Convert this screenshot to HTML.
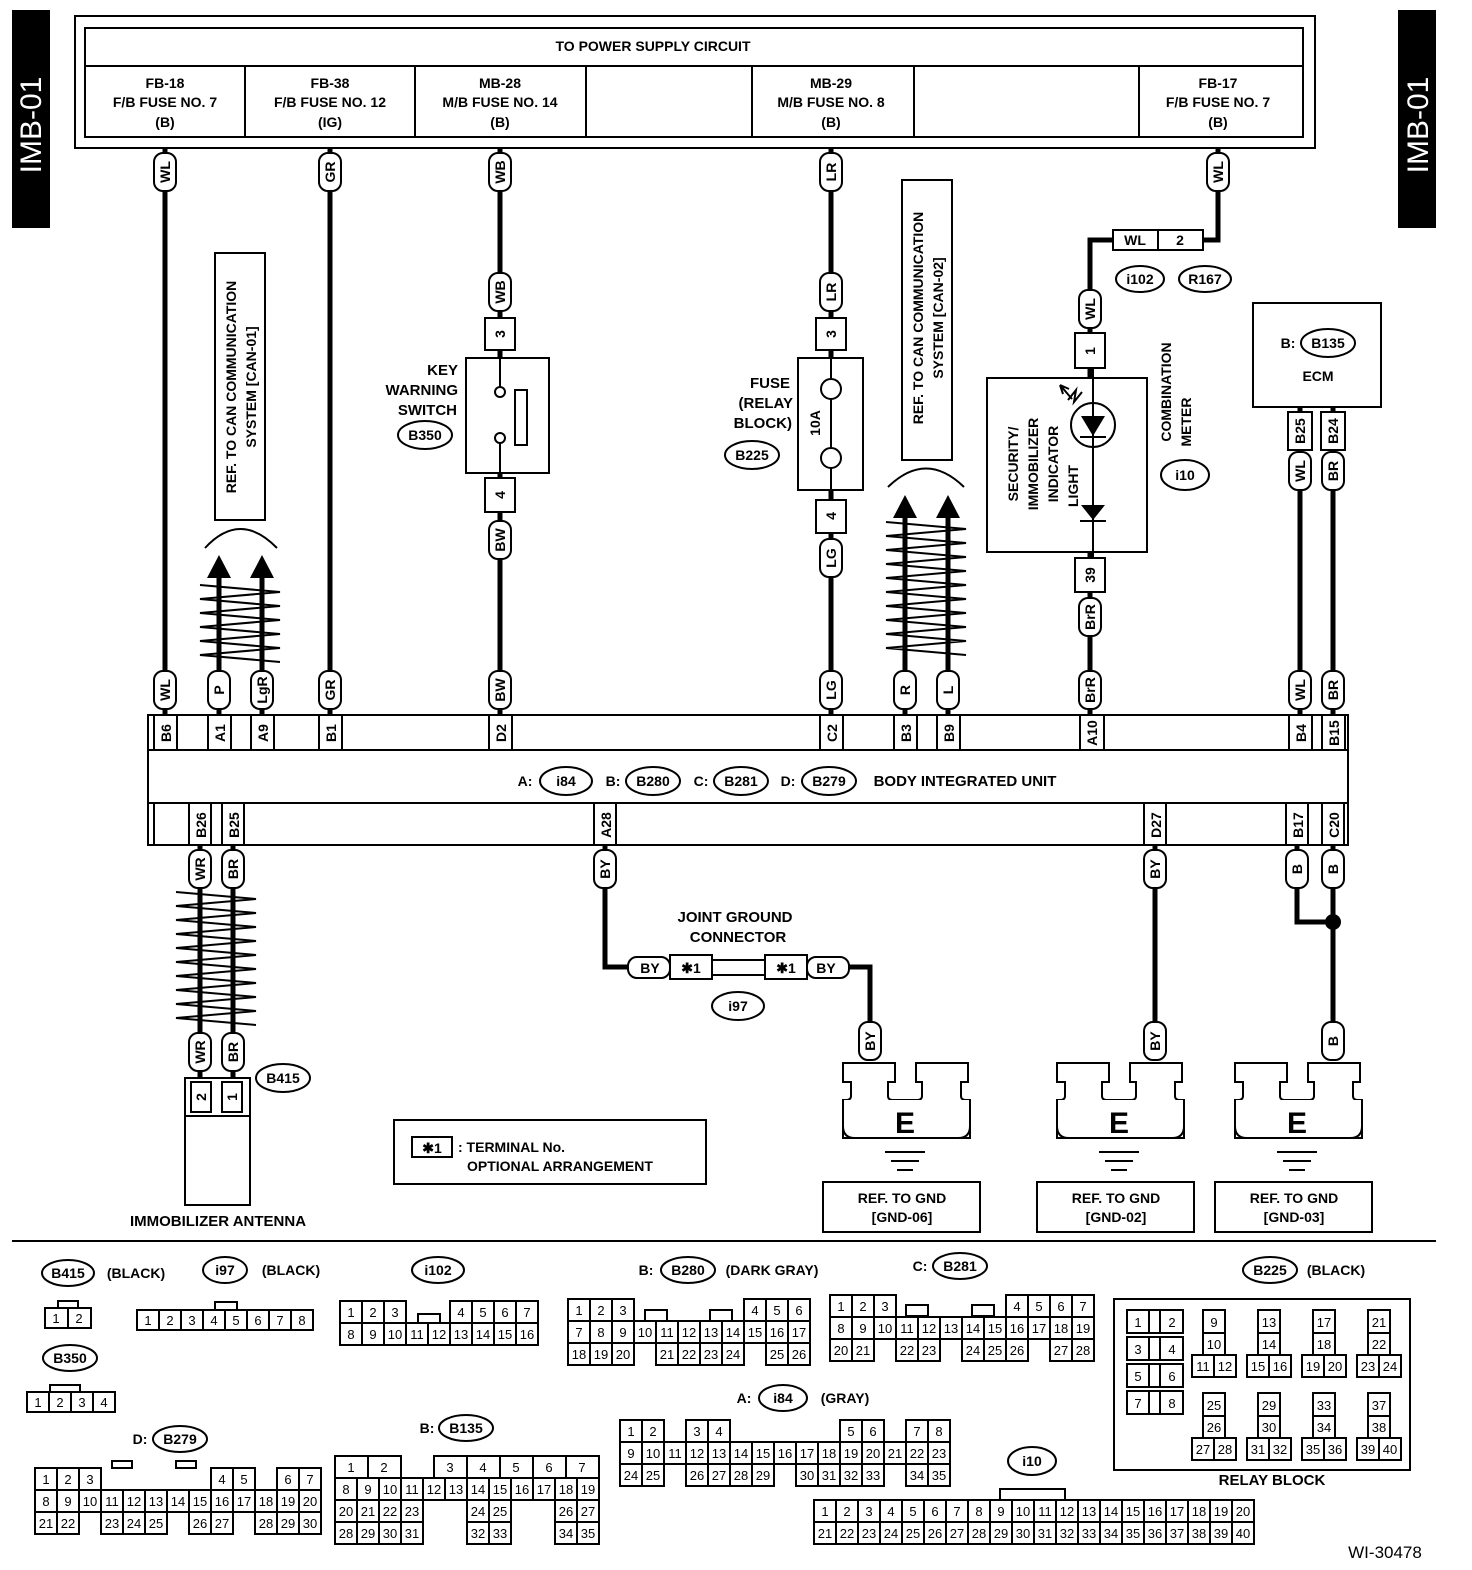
<!DOCTYPE html>
<html><head><meta charset="utf-8"><style>
html,body{margin:0;padding:0;background:#fff}
svg{display:block}
text{font-family:"Liberation Sans",sans-serif;font-weight:bold;font-size:14px;text-anchor:middle;fill:#000}
.b{fill:#fff;stroke:#000;stroke-width:2}
.w{stroke:#000;stroke-width:5;fill:none}
.t{stroke:#000;stroke-width:2;fill:none}
.c rect{fill:#fff;stroke:#000;stroke-width:2}
.c text{font-size:13px;font-weight:normal}
</style></head><body>
<svg width="1472" height="1570" viewBox="0 0 1472 1570" xmlns="http://www.w3.org/2000/svg">
<defs>
<g id="zz"><polyline class="t" points="0,0 80,7 0,14 80,21 0,28 80,35 0,42 80,49 0,56 80,63 0,70 80,77"/></g>
<g id="zl"><polyline class="t" points="0,0 80,7 0,14 80,21 0,28 80,35 0,42 80,49 0,56 80,63 0,70 80,77 0,84 80,91 0,98 80,105 0,112 80,119 0,126 80,133"/></g>
</defs>
<rect x="12" y="10" width="38" height="218" fill="#000"/>
<text transform="translate(41,125) rotate(-90)" style="fill:#fff;font-size:30px;font-weight:normal">IMB-01</text>
<rect x="1398" y="10" width="38" height="218" fill="#000"/>
<text transform="translate(1428,125) rotate(-90)" style="fill:#fff;font-size:30px;font-weight:normal">IMB-01</text>

<rect x="75" y="16" width="1240" height="132" class="b"/>
<rect x="85" y="28" width="1218" height="109" class="b"/>
<line x1="85" y1="66" x2="1303" y2="66" class="t"/>
<path class="t" d="M245 66V137M415 66V137M586 66V137M752 66V137M914 66V137M1139 66V137"/>
<text x="653" y="51">TO POWER SUPPLY CIRCUIT</text>
<text x="165" y="88">FB-18</text><text x="165" y="107">F/B FUSE NO. 7</text><text x="165" y="127">(B)</text>
<text x="330" y="88">FB-38</text><text x="330" y="107">F/B FUSE NO. 12</text><text x="330" y="127">(IG)</text>
<text x="500" y="88">MB-28</text><text x="500" y="107">M/B FUSE NO. 14</text><text x="500" y="127">(B)</text>
<text x="831" y="88">MB-29</text><text x="831" y="107">M/B FUSE NO. 8</text><text x="831" y="127">(B)</text>
<text x="1218" y="88">FB-17</text><text x="1218" y="107">F/B FUSE NO. 7</text><text x="1218" y="127">(B)</text>

<path class="w" d="M165 148V715M330 148V715M500 148V715M831 148V715M1218 148V240H1190M1113 240H1090V715M1300 407V715M1333 407V715"/>

<rect x="215" y="253" width="50" height="267" class="b"/>
<text transform="translate(236,387) rotate(-90)">REF. TO CAN COMMUNICATION</text>
<text transform="translate(256,387) rotate(-90)">SYSTEM [CAN-01]</text>
<path class="t" d="M205 548Q240 510 277 548"/>
<path class="w" d="M219 715V575M262 715V575"/>
<path d="M207 578L219 555L231 578ZM250 578L262 555L274 578Z"/>
<use href="#zz" x="200" y="585"/>
<rect x="902" y="180" width="50" height="280" class="b"/>
<text transform="translate(923,318) rotate(-90)">REF. TO CAN COMMUNICATION</text>
<text transform="translate(943,318) rotate(-90)">SYSTEM [CAN-02]</text>
<path class="t" d="M888 487Q926 450 964 487"/>
<path class="w" d="M905 715V515M948 715V515"/>
<path d="M893 518L905 495L917 518ZM936 518L948 495L960 518Z"/>
<use href="#zl" x="886" y="522"/>

<rect x="485" y="318" width="30" height="32" class="b"/><text transform="translate(505,334) rotate(-90)">3</text>
<rect x="466" y="358" width="83" height="115" class="b"/>
<circle cx="500" cy="392" r="5" class="b"/><circle cx="500" cy="438" r="5" class="b"/>
<path class="t" d="M500 350V387M500 443V478"/>
<rect x="515" y="390" width="12" height="55" class="b"/>
<rect x="485" y="478" width="30" height="34" class="b"/><text transform="translate(505,495) rotate(-90)">4</text>
<text x="458" y="375" style="text-anchor:end;font-size:15px">KEY</text>
<text x="458" y="395" style="text-anchor:end;font-size:15px">WARNING</text>
<text x="457" y="415" style="text-anchor:end;font-size:15px">SWITCH</text>

<rect x="816" y="318" width="30" height="32" class="b"/><text transform="translate(836,334) rotate(-90)">3</text>
<rect x="798" y="358" width="65" height="132" class="b"/>
<path class="t" d="M831 350V379M831 468V500M831 399V448"/>
<circle cx="831" cy="389" r="10" class="b"/><circle cx="831" cy="458" r="10" class="b"/>
<text transform="translate(820,423) rotate(-90)">10A</text>
<rect x="816" y="500" width="30" height="33" class="b"/><text transform="translate(836,516) rotate(-90)">4</text>
<text x="790" y="388" style="text-anchor:end;font-size:15px">FUSE</text>
<text x="793" y="408" style="text-anchor:end;font-size:15px">(RELAY</text>
<text x="792" y="428" style="text-anchor:end;font-size:15px">BLOCK)</text>

<rect x="1113" y="230" width="90" height="20" class="b"/>
<line x1="1158" y1="230" x2="1158" y2="250" class="t"/>
<text x="1135" y="245">WL</text><text x="1180" y="245">2</text>
<rect x="1075" y="333" width="30" height="35" class="b"/><text transform="translate(1095,351) rotate(-90)">1</text>
<rect x="987" y="378" width="160" height="174" class="b"/>
<line x1="1093" y1="368" x2="1093" y2="558" class="t"/>
<circle cx="1093" cy="425" r="22" class="b"/>
<line x1="1093" y1="403" x2="1093" y2="447" class="t"/>
<path d="M1081 416H1105L1093 436Z"/><line x1="1080" y1="437" x2="1106" y2="437" class="t"/>
<path d="M1081 505H1105L1093 520Z"/><line x1="1080" y1="521" x2="1106" y2="521" class="t"/>
<path class="t" d="M1072 399L1060 385M1060 385L1063 394M1060 385L1069 389M1068 400L1076 390L1074 402L1082 392"/>
<text transform="translate(1018,464) rotate(-90)">SECURITY/</text>
<text transform="translate(1038,464) rotate(-90)">IMMOBILIZER</text>
<text transform="translate(1058,464) rotate(-90)">INDICATOR</text>
<text transform="translate(1078,486) rotate(-90)">LIGHT</text>
<rect x="1075" y="558" width="30" height="34" class="b"/><text transform="translate(1095,575) rotate(-90)">39</text>
<text transform="translate(1171,392) rotate(-90)">COMBINATION</text>
<text transform="translate(1191,422) rotate(-90)">METER</text>

<rect x="1253" y="303" width="128" height="104" class="b"/>
<text x="1288" y="348">B:</text>
<ellipse cx="1328" cy="343" rx="27" ry="14" class="b"/><text x="1328" y="348">B135</text>
<text x="1318" y="381">ECM</text>
<rect x="1288" y="412" width="24" height="38" class="b"/><text transform="translate(1305,431) rotate(-90)">B25</text>
<rect x="1321" y="412" width="24" height="38" class="b"/><text transform="translate(1338,431) rotate(-90)">B24</text>

<ellipse cx="1140" cy="279" rx="24" ry="13" class="b"/><text x="1140" y="284">i102</text>
<ellipse cx="1205" cy="279" rx="26" ry="13" class="b"/><text x="1205" y="284">R167</text>
<ellipse cx="425" cy="435" rx="27" ry="14" class="b"/><text x="425" y="440">B350</text>
<ellipse cx="752" cy="455" rx="27" ry="14" class="b"/><text x="752" y="460">B225</text>
<ellipse cx="1185" cy="475" rx="24" ry="15" class="b"/><text x="1185" y="480">i10</text>

<rect x="154" y="153" width="22" height="38" rx="9" class="b"/><text transform="translate(170,172) rotate(-90)">WL</text>
<rect x="319" y="153" width="22" height="38" rx="9" class="b"/><text transform="translate(335,172) rotate(-90)">GR</text>
<rect x="489" y="153" width="22" height="38" rx="9" class="b"/><text transform="translate(505,172) rotate(-90)">WB</text>
<rect x="820" y="153" width="22" height="38" rx="9" class="b"/><text transform="translate(836,172) rotate(-90)">LR</text>
<rect x="1207" y="153" width="22" height="38" rx="9" class="b"/><text transform="translate(1223,172) rotate(-90)">WL</text>
<rect x="489" y="273" width="22" height="38" rx="9" class="b"/><text transform="translate(505,292) rotate(-90)">WB</text>
<rect x="820" y="273" width="22" height="38" rx="9" class="b"/><text transform="translate(836,292) rotate(-90)">LR</text>
<rect x="1079" y="290" width="22" height="38" rx="9" class="b"/><text transform="translate(1095,309) rotate(-90)">WL</text>
<rect x="489" y="521" width="22" height="38" rx="9" class="b"/><text transform="translate(505,540) rotate(-90)">BW</text>
<rect x="820" y="539" width="22" height="38" rx="9" class="b"/><text transform="translate(836,558) rotate(-90)">LG</text>
<rect x="1079" y="598" width="22" height="38" rx="9" class="b"/><text transform="translate(1095,617) rotate(-90)">BrR</text>
<rect x="1289" y="452" width="22" height="38" rx="9" class="b"/><text transform="translate(1305,471) rotate(-90)">WL</text>
<rect x="1322" y="452" width="22" height="38" rx="9" class="b"/><text transform="translate(1338,471) rotate(-90)">BR</text>
<rect x="154" y="671" width="22" height="38" rx="9" class="b"/><text transform="translate(170,690) rotate(-90)">WL</text>
<rect x="208" y="671" width="22" height="38" rx="9" class="b"/><text transform="translate(224,690) rotate(-90)">P</text>
<rect x="251" y="671" width="22" height="38" rx="9" class="b"/><text transform="translate(267,690) rotate(-90)">LgR</text>
<rect x="319" y="671" width="22" height="38" rx="9" class="b"/><text transform="translate(335,690) rotate(-90)">GR</text>
<rect x="489" y="671" width="22" height="38" rx="9" class="b"/><text transform="translate(505,690) rotate(-90)">BW</text>
<rect x="820" y="671" width="22" height="38" rx="9" class="b"/><text transform="translate(836,690) rotate(-90)">LG</text>
<rect x="894" y="671" width="22" height="38" rx="9" class="b"/><text transform="translate(910,690) rotate(-90)">R</text>
<rect x="937" y="671" width="22" height="38" rx="9" class="b"/><text transform="translate(953,690) rotate(-90)">L</text>
<rect x="1079" y="671" width="22" height="38" rx="9" class="b"/><text transform="translate(1095,690) rotate(-90)">BrR</text>
<rect x="1289" y="671" width="22" height="38" rx="9" class="b"/><text transform="translate(1305,690) rotate(-90)">WL</text>
<rect x="1322" y="671" width="22" height="38" rx="9" class="b"/><text transform="translate(1338,690) rotate(-90)">BR</text>

<rect x="148" y="715" width="1200" height="130" class="b"/>
<path class="t" d="M148 750H1348M148 803H1348"/>
<path class="t" d="M154 715V750M177 715V750M208 715V750M231 715V750M251 715V750M274 715V750M319 715V750M342 715V750M489 715V750M512 715V750M820 715V750M843 715V750M894 715V750M917 715V750M937 715V750M960 715V750M1080 715V750M1104 715V750M1289 715V750M1312 715V750M1322 715V750M1345 715V750"/>
<text transform="translate(171,733) rotate(-90)">B6</text>
<text transform="translate(225,733) rotate(-90)">A1</text>
<text transform="translate(268,733) rotate(-90)">A9</text>
<text transform="translate(336,733) rotate(-90)">B1</text>
<text transform="translate(506,733) rotate(-90)">D2</text>
<text transform="translate(837,733) rotate(-90)">C2</text>
<text transform="translate(911,733) rotate(-90)">B3</text>
<text transform="translate(954,733) rotate(-90)">B9</text>
<text transform="translate(1097,733) rotate(-90)">A10</text>
<text transform="translate(1306,733) rotate(-90)">B4</text>
<text transform="translate(1339,733) rotate(-90)">B15</text>
<path class="t" d="M154 803V845M189 803V845M211 803V845M222 803V845M244 803V845M594 803V845M616 803V845M1144 803V845M1166 803V845M1286 803V845M1308 803V845M1322 803V845M1344 803V845"/>
<text transform="translate(206,825) rotate(-90)">B26</text>
<text transform="translate(239,825) rotate(-90)">B25</text>
<text transform="translate(611,825) rotate(-90)">A28</text>
<text transform="translate(1161,825) rotate(-90)">D27</text>
<text transform="translate(1303,825) rotate(-90)">B17</text>
<text transform="translate(1339,825) rotate(-90)">C20</text>
<text x="525" y="786">A:</text>
<ellipse cx="566" cy="781" rx="26" ry="14" class="b"/><text x="566" y="786">i84</text>
<text x="613" y="786">B:</text>
<ellipse cx="653" cy="781" rx="27" ry="14" class="b"/><text x="653" y="786">B280</text>
<text x="701" y="786">C:</text>
<ellipse cx="741" cy="781" rx="27" ry="14" class="b"/><text x="741" y="786">B281</text>
<text x="788" y="786">D:</text>
<ellipse cx="829" cy="781" rx="27" ry="14" class="b"/><text x="829" y="786">B279</text>
<text x="965" y="786" style="font-size:15px">BODY INTEGRATED UNIT</text>

<path class="w" d="M200 845V1078M233 845V1078M605 845V967H628M847 967H870V1060M1155 845V1060M1297 845V922H1333M1333 845V1060"/>
<circle cx="1333" cy="922" r="8"/>
<use href="#zl" x="176" y="892"/>
<rect x="189" y="850" width="22" height="38" rx="9" class="b"/><text transform="translate(205,869) rotate(-90)">WR</text>
<rect x="222" y="850" width="22" height="38" rx="9" class="b"/><text transform="translate(238,869) rotate(-90)">BR</text>
<rect x="594" y="850" width="22" height="38" rx="9" class="b"/><text transform="translate(610,869) rotate(-90)">BY</text>
<rect x="1144" y="850" width="22" height="38" rx="9" class="b"/><text transform="translate(1160,869) rotate(-90)">BY</text>
<rect x="1286" y="850" width="22" height="38" rx="9" class="b"/><text transform="translate(1302,869) rotate(-90)">B</text>
<rect x="1322" y="850" width="22" height="38" rx="9" class="b"/><text transform="translate(1338,869) rotate(-90)">B</text>
<rect x="189" y="1033" width="22" height="38" rx="9" class="b"/><text transform="translate(205,1052) rotate(-90)">WR</text>
<rect x="222" y="1033" width="22" height="38" rx="9" class="b"/><text transform="translate(238,1052) rotate(-90)">BR</text>
<rect x="859" y="1022" width="22" height="38" rx="9" class="b"/><text transform="translate(875,1041) rotate(-90)">BY</text>
<rect x="1144" y="1022" width="22" height="38" rx="9" class="b"/><text transform="translate(1160,1041) rotate(-90)">BY</text>
<rect x="1322" y="1022" width="22" height="38" rx="9" class="b"/><text transform="translate(1338,1041) rotate(-90)">B</text>

<rect x="185" y="1078" width="65" height="38" class="b"/>
<rect x="191" y="1082" width="20" height="30" class="b"/><rect x="222" y="1082" width="20" height="30" class="b"/>
<text transform="translate(206,1097) rotate(-90)">2</text><text transform="translate(237,1097) rotate(-90)">1</text>
<rect x="185" y="1116" width="65" height="89" class="b"/>
<ellipse cx="283" cy="1078" rx="27" ry="14" class="b"/><text x="283" y="1083">B415</text>
<text x="218" y="1226" style="font-size:15px">IMMOBILIZER ANTENNA</text>

<text x="735" y="922" style="font-size:15px">JOINT GROUND</text>
<text x="738" y="942" style="font-size:15px">CONNECTOR</text>
<rect x="628" y="957" width="42" height="21" rx="9" class="b"/><text x="650" y="973">BY</text>
<rect x="670" y="955" width="42" height="24" class="b"/><text x="691" y="973">✱1</text>
<rect x="712" y="960" width="53" height="15" class="b"/>
<rect x="765" y="955" width="42" height="24" class="b"/><text x="786" y="973">✱1</text>
<rect x="807" y="957" width="42" height="21" rx="9" class="b"/><text x="826" y="973">BY</text>
<ellipse cx="738" cy="1006" rx="26" ry="14" class="b"/><text x="738" y="1011">i97</text>

<rect x="394" y="1120" width="312" height="64" class="b"/>
<rect x="412" y="1137" width="40" height="20" class="b"/><text x="432" y="1153">✱1</text>
<text x="458" y="1152" style="text-anchor:start">: TERMINAL No.</text>
<text x="467" y="1171" style="text-anchor:start">OPTIONAL ARRANGEMENT</text>

<g>
<path class="b" d="M843 1063H895V1082H888V1096Q888 1100 893 1100H917Q922 1100 922 1096V1082H916V1063H968V1082H961V1096Q961 1100 966 1100H970V1138H843V1100H846Q851 1100 851 1096V1082H843Z"/>
<path class="b" d="M843 1100V1126Q843 1138 855 1138H958Q970 1138 970 1126V1100"/>
<text x="905" y="1133" style="font-size:30px">E</text>
<path class="t" d="M885 1152H925M891 1161H919M897 1170H913"/>
<rect x="823" y="1182" width="157" height="50" class="b"/>
<text x="902" y="1203">REF. TO GND</text><text x="902" y="1222">[GND-06]</text>
</g>
<g transform="translate(214,0)">
<path class="b" d="M843 1063H895V1082H888V1096Q888 1100 893 1100H917Q922 1100 922 1096V1082H916V1063H968V1082H961V1096Q961 1100 966 1100H970V1138H843V1100H846Q851 1100 851 1096V1082H843Z"/>
<path class="b" d="M843 1100V1126Q843 1138 855 1138H958Q970 1138 970 1126V1100"/>
<text x="905" y="1133" style="font-size:30px">E</text>
<path class="t" d="M885 1152H925M891 1161H919M897 1170H913"/>
<rect x="823" y="1182" width="157" height="50" class="b"/>
<text x="902" y="1203">REF. TO GND</text><text x="902" y="1222">[GND-02]</text>
</g>
<g transform="translate(392,0)">
<path class="b" d="M843 1063H895V1082H888V1096Q888 1100 893 1100H917Q922 1100 922 1096V1082H916V1063H968V1082H961V1096Q961 1100 966 1100H970V1138H843V1100H846Q851 1100 851 1096V1082H843Z"/>
<path class="b" d="M843 1100V1126Q843 1138 855 1138H958Q970 1138 970 1126V1100"/>
<text x="905" y="1133" style="font-size:30px">E</text>
<path class="t" d="M885 1152H925M891 1161H919M897 1170H913"/>
<rect x="823" y="1182" width="157" height="50" class="b"/>
<text x="902" y="1203">REF. TO GND</text><text x="902" y="1222">[GND-03]</text>
</g>

<line x1="12" y1="1241" x2="1436" y2="1241" class="t"/>

<ellipse cx="68" cy="1273" rx="26" ry="13" class="b"/><text x="68" y="1278">B415</text><text x="136" y="1278">(BLACK)</text>
<ellipse cx="225" cy="1270" rx="22" ry="13" class="b"/><text x="225" y="1275">i97</text><text x="291" y="1275">(BLACK)</text>
<ellipse cx="438" cy="1270" rx="26" ry="13" class="b"/><text x="438" y="1275">i102</text>
<text x="646" y="1275">B:</text><ellipse cx="688" cy="1270" rx="27" ry="13" class="b"/><text x="688" y="1275">B280</text><text x="772" y="1275">(DARK GRAY)</text>
<text x="920" y="1271">C:</text><ellipse cx="960" cy="1266" rx="27" ry="13" class="b"/><text x="960" y="1271">B281</text>
<ellipse cx="1270" cy="1270" rx="27" ry="13" class="b"/><text x="1270" y="1275">B225</text><text x="1336" y="1275">(BLACK)</text>
<ellipse cx="70" cy="1358" rx="27" ry="13" class="b"/><text x="70" y="1363">B350</text>
<text x="140" y="1444">D:</text><ellipse cx="180" cy="1439" rx="27" ry="13" class="b"/><text x="180" y="1444">B279</text>
<text x="427" y="1433">B:</text><ellipse cx="466" cy="1428" rx="27" ry="13" class="b"/><text x="466" y="1433">B135</text>
<text x="744" y="1403">A:</text><ellipse cx="783" cy="1398" rx="24" ry="13" class="b"/><text x="783" y="1403">i84</text><text x="845" y="1403">(GRAY)</text>
<ellipse cx="1032" cy="1461" rx="24" ry="14" class="b"/><text x="1032" y="1466">i10</text>
<text x="1272" y="1485" style="font-size:15px">RELAY BLOCK</text>
<text x="1385" y="1558" style="font-size:17px;font-weight:normal">WI-30478</text>

<g class="c">
<rect x="58" y="1301" width="20" height="7"/>
<rect x="45" y="1308" width="23" height="20"/><rect x="68" y="1308" width="23" height="20"/>
<text x="56" y="1323">1</text><text x="79" y="1323">2</text>
<rect x="50" y="1385" width="30" height="7"/>
<rect x="27" y="1392" width="22" height="20"/><rect x="49" y="1392" width="22" height="20"/><rect x="71" y="1392" width="22" height="20"/><rect x="93" y="1392" width="22" height="20"/>
<text x="38" y="1407">1</text><text x="60" y="1407">2</text><text x="82" y="1407">3</text><text x="104" y="1407">4</text>
<rect x="215" y="1302" width="22" height="8"/>
<rect x="137" y="1310" width="176" height="20"/>
<rect x="137" y="1310" width="22" height="20"/><rect x="159" y="1310" width="22" height="20"/><rect x="181" y="1310" width="22" height="20"/><rect x="203" y="1310" width="22" height="20"/><rect x="225" y="1310" width="22" height="20"/><rect x="247" y="1310" width="22" height="20"/><rect x="269" y="1310" width="22" height="20"/><rect x="291" y="1310" width="22" height="20"/>
<text x="148" y="1325">1</text><text x="170" y="1325">2</text><text x="192" y="1325">3</text><text x="214" y="1325">4</text><text x="236" y="1325">5</text><text x="258" y="1325">6</text><text x="280" y="1325">7</text><text x="302" y="1325">8</text>
<rect x="418" y="1314" width="22" height="9"/>
<rect x="340" y="1301" width="22" height="22"/><rect x="362" y="1301" width="22" height="22"/><rect x="384" y="1301" width="22" height="22"/>
<rect x="450" y="1301" width="22" height="22"/><rect x="472" y="1301" width="22" height="22"/><rect x="494" y="1301" width="22" height="22"/><rect x="516" y="1301" width="22" height="22"/>
<text x="351" y="1317">1</text><text x="373" y="1317">2</text><text x="395" y="1317">3</text><text x="461" y="1317">4</text><text x="483" y="1317">5</text><text x="505" y="1317">6</text><text x="527" y="1317">7</text>
<rect x="340" y="1323" width="22" height="22"/><rect x="362" y="1323" width="22" height="22"/><rect x="384" y="1323" width="22" height="22"/><rect x="406" y="1323" width="22" height="22"/><rect x="428" y="1323" width="22" height="22"/><rect x="450" y="1323" width="22" height="22"/><rect x="472" y="1323" width="22" height="22"/><rect x="494" y="1323" width="22" height="22"/><rect x="516" y="1323" width="22" height="22"/>
<text x="351" y="1339">8</text><text x="373" y="1339">9</text><text x="395" y="1339">10</text><text x="417" y="1339">11</text><text x="439" y="1339">12</text><text x="461" y="1339">13</text><text x="483" y="1339">14</text><text x="505" y="1339">15</text><text x="527" y="1339">16</text>
<rect x="645" y="1310" width="22" height="11"/><rect x="710" y="1310" width="22" height="11"/>
<rect x="568" y="1299" width="22" height="22"/><rect x="590" y="1299" width="22" height="22"/><rect x="612" y="1299" width="22" height="22"/><rect x="744" y="1299" width="22" height="22"/><rect x="766" y="1299" width="22" height="22"/><rect x="788" y="1299" width="22" height="22"/>
<text x="579" y="1315">1</text><text x="601" y="1315">2</text><text x="623" y="1315">3</text><text x="755" y="1315">4</text><text x="777" y="1315">5</text><text x="799" y="1315">6</text>
<rect x="568" y="1321" width="22" height="22"/><rect x="590" y="1321" width="22" height="22"/><rect x="612" y="1321" width="22" height="22"/><rect x="634" y="1321" width="22" height="22"/><rect x="656" y="1321" width="22" height="22"/><rect x="678" y="1321" width="22" height="22"/><rect x="700" y="1321" width="22" height="22"/><rect x="722" y="1321" width="22" height="22"/><rect x="744" y="1321" width="22" height="22"/><rect x="766" y="1321" width="22" height="22"/><rect x="788" y="1321" width="22" height="22"/>
<text x="579" y="1337">7</text><text x="601" y="1337">8</text><text x="623" y="1337">9</text><text x="645" y="1337">10</text><text x="667" y="1337">11</text><text x="689" y="1337">12</text><text x="711" y="1337">13</text><text x="733" y="1337">14</text><text x="755" y="1337">15</text><text x="777" y="1337">16</text><text x="799" y="1337">17</text>
<rect x="568" y="1343" width="22" height="22"/><rect x="590" y="1343" width="22" height="22"/><rect x="612" y="1343" width="22" height="22"/><rect x="656" y="1343" width="22" height="22"/><rect x="678" y="1343" width="22" height="22"/><rect x="700" y="1343" width="22" height="22"/><rect x="722" y="1343" width="22" height="22"/><rect x="766" y="1343" width="22" height="22"/><rect x="788" y="1343" width="22" height="22"/>
<text x="579" y="1359">18</text><text x="601" y="1359">19</text><text x="623" y="1359">20</text><text x="667" y="1359">21</text><text x="689" y="1359">22</text><text x="711" y="1359">23</text><text x="733" y="1359">24</text><text x="777" y="1359">25</text><text x="799" y="1359">26</text>
<rect x="906" y="1305" width="22" height="11"/><rect x="972" y="1305" width="22" height="11"/>
<rect x="830" y="1295" width="22" height="22"/><rect x="852" y="1295" width="22" height="22"/><rect x="874" y="1295" width="22" height="22"/><rect x="1006" y="1295" width="22" height="22"/><rect x="1028" y="1295" width="22" height="22"/><rect x="1050" y="1295" width="22" height="22"/><rect x="1072" y="1295" width="22" height="22"/>
<text x="841" y="1311">1</text><text x="863" y="1311">2</text><text x="885" y="1311">3</text><text x="1017" y="1311">4</text><text x="1039" y="1311">5</text><text x="1061" y="1311">6</text><text x="1083" y="1311">7</text>
<rect x="830" y="1317" width="22" height="22"/><rect x="852" y="1317" width="22" height="22"/><rect x="874" y="1317" width="22" height="22"/><rect x="896" y="1317" width="22" height="22"/><rect x="918" y="1317" width="22" height="22"/><rect x="940" y="1317" width="22" height="22"/><rect x="962" y="1317" width="22" height="22"/><rect x="984" y="1317" width="22" height="22"/><rect x="1006" y="1317" width="22" height="22"/><rect x="1028" y="1317" width="22" height="22"/><rect x="1050" y="1317" width="22" height="22"/><rect x="1072" y="1317" width="22" height="22"/>
<text x="841" y="1333">8</text><text x="863" y="1333">9</text><text x="885" y="1333">10</text><text x="907" y="1333">11</text><text x="929" y="1333">12</text><text x="951" y="1333">13</text><text x="973" y="1333">14</text><text x="995" y="1333">15</text><text x="1017" y="1333">16</text><text x="1039" y="1333">17</text><text x="1061" y="1333">18</text><text x="1083" y="1333">19</text>
<rect x="830" y="1339" width="22" height="22"/><rect x="852" y="1339" width="22" height="22"/><rect x="896" y="1339" width="22" height="22"/><rect x="918" y="1339" width="22" height="22"/><rect x="962" y="1339" width="22" height="22"/><rect x="984" y="1339" width="22" height="22"/><rect x="1006" y="1339" width="22" height="22"/><rect x="1050" y="1339" width="22" height="22"/><rect x="1072" y="1339" width="22" height="22"/>
<text x="841" y="1355">20</text><text x="863" y="1355">21</text><text x="907" y="1355">22</text><text x="929" y="1355">23</text><text x="973" y="1355">24</text><text x="995" y="1355">25</text><text x="1017" y="1355">26</text><text x="1061" y="1355">27</text><text x="1083" y="1355">28</text>
<rect x="112" y="1461" width="20" height="7"/><rect x="176" y="1461" width="20" height="7"/>
<rect x="35" y="1468" width="22" height="22"/><rect x="57" y="1468" width="22" height="22"/><rect x="79" y="1468" width="22" height="22"/><rect x="211" y="1468" width="22" height="22"/><rect x="233" y="1468" width="22" height="22"/><rect x="277" y="1468" width="22" height="22"/><rect x="299" y="1468" width="22" height="22"/>
<text x="46" y="1484">1</text><text x="68" y="1484">2</text><text x="90" y="1484">3</text><text x="222" y="1484">4</text><text x="244" y="1484">5</text><text x="288" y="1484">6</text><text x="310" y="1484">7</text>
<rect x="35" y="1490" width="22" height="22"/><rect x="57" y="1490" width="22" height="22"/><rect x="79" y="1490" width="22" height="22"/><rect x="101" y="1490" width="22" height="22"/><rect x="123" y="1490" width="22" height="22"/><rect x="145" y="1490" width="22" height="22"/><rect x="167" y="1490" width="22" height="22"/><rect x="189" y="1490" width="22" height="22"/><rect x="211" y="1490" width="22" height="22"/><rect x="233" y="1490" width="22" height="22"/><rect x="255" y="1490" width="22" height="22"/><rect x="277" y="1490" width="22" height="22"/><rect x="299" y="1490" width="22" height="22"/>
<text x="46" y="1506">8</text><text x="68" y="1506">9</text><text x="90" y="1506">10</text><text x="112" y="1506">11</text><text x="134" y="1506">12</text><text x="156" y="1506">13</text><text x="178" y="1506">14</text><text x="200" y="1506">15</text><text x="222" y="1506">16</text><text x="244" y="1506">17</text><text x="266" y="1506">18</text><text x="288" y="1506">19</text><text x="310" y="1506">20</text>
<rect x="35" y="1512" width="22" height="22"/><rect x="57" y="1512" width="22" height="22"/><rect x="101" y="1512" width="22" height="22"/><rect x="123" y="1512" width="22" height="22"/><rect x="145" y="1512" width="22" height="22"/><rect x="189" y="1512" width="22" height="22"/><rect x="211" y="1512" width="22" height="22"/><rect x="255" y="1512" width="22" height="22"/><rect x="277" y="1512" width="22" height="22"/><rect x="299" y="1512" width="22" height="22"/>
<text x="46" y="1528">21</text><text x="68" y="1528">22</text><text x="112" y="1528">23</text><text x="134" y="1528">24</text><text x="156" y="1528">25</text><text x="200" y="1528">26</text><text x="222" y="1528">27</text><text x="266" y="1528">28</text><text x="288" y="1528">29</text><text x="310" y="1528">30</text>
<rect x="335" y="1456" width="33" height="22"/><rect x="368" y="1456" width="33" height="22"/><rect x="434" y="1456" width="33" height="22"/><rect x="467" y="1456" width="33" height="22"/><rect x="500" y="1456" width="33" height="22"/><rect x="533" y="1456" width="33" height="22"/><rect x="566" y="1456" width="33" height="22"/>
<text x="351" y="1472">1</text><text x="384" y="1472">2</text><text x="450" y="1472">3</text><text x="483" y="1472">4</text><text x="516" y="1472">5</text><text x="549" y="1472">6</text><text x="582" y="1472">7</text>
<rect x="335" y="1478" width="22" height="22"/><rect x="357" y="1478" width="22" height="22"/><rect x="379" y="1478" width="22" height="22"/><rect x="401" y="1478" width="22" height="22"/><rect x="423" y="1478" width="22" height="22"/><rect x="445" y="1478" width="22" height="22"/><rect x="467" y="1478" width="22" height="22"/><rect x="489" y="1478" width="22" height="22"/><rect x="511" y="1478" width="22" height="22"/><rect x="533" y="1478" width="22" height="22"/><rect x="555" y="1478" width="22" height="22"/><rect x="577" y="1478" width="22" height="22"/>
<text x="346" y="1494">8</text><text x="368" y="1494">9</text><text x="390" y="1494">10</text><text x="412" y="1494">11</text><text x="434" y="1494">12</text><text x="456" y="1494">13</text><text x="478" y="1494">14</text><text x="500" y="1494">15</text><text x="522" y="1494">16</text><text x="544" y="1494">17</text><text x="566" y="1494">18</text><text x="588" y="1494">19</text>
<rect x="335" y="1500" width="22" height="22"/><rect x="357" y="1500" width="22" height="22"/><rect x="379" y="1500" width="22" height="22"/><rect x="401" y="1500" width="22" height="22"/><rect x="467" y="1500" width="22" height="22"/><rect x="489" y="1500" width="22" height="22"/><rect x="555" y="1500" width="22" height="22"/><rect x="577" y="1500" width="22" height="22"/>
<text x="346" y="1516">20</text><text x="368" y="1516">21</text><text x="390" y="1516">22</text><text x="412" y="1516">23</text><text x="478" y="1516">24</text><text x="500" y="1516">25</text><text x="566" y="1516">26</text><text x="588" y="1516">27</text>
<rect x="335" y="1522" width="22" height="22"/><rect x="357" y="1522" width="22" height="22"/><rect x="379" y="1522" width="22" height="22"/><rect x="401" y="1522" width="22" height="22"/><rect x="467" y="1522" width="22" height="22"/><rect x="489" y="1522" width="22" height="22"/><rect x="555" y="1522" width="22" height="22"/><rect x="577" y="1522" width="22" height="22"/>
<text x="346" y="1538">28</text><text x="368" y="1538">29</text><text x="390" y="1538">30</text><text x="412" y="1538">31</text><text x="478" y="1538">32</text><text x="500" y="1538">33</text><text x="566" y="1538">34</text><text x="588" y="1538">35</text>
<rect x="620" y="1420" width="22" height="22"/><rect x="642" y="1420" width="22" height="22"/><rect x="686" y="1420" width="22" height="22"/><rect x="708" y="1420" width="22" height="22"/><rect x="840" y="1420" width="22" height="22"/><rect x="862" y="1420" width="22" height="22"/><rect x="906" y="1420" width="22" height="22"/><rect x="928" y="1420" width="22" height="22"/>
<text x="631" y="1436">1</text><text x="653" y="1436">2</text><text x="697" y="1436">3</text><text x="719" y="1436">4</text><text x="851" y="1436">5</text><text x="873" y="1436">6</text><text x="917" y="1436">7</text><text x="939" y="1436">8</text>
<rect x="620" y="1442" width="22" height="22"/><rect x="642" y="1442" width="22" height="22"/><rect x="664" y="1442" width="22" height="22"/><rect x="686" y="1442" width="22" height="22"/><rect x="708" y="1442" width="22" height="22"/><rect x="730" y="1442" width="22" height="22"/><rect x="752" y="1442" width="22" height="22"/><rect x="774" y="1442" width="22" height="22"/><rect x="796" y="1442" width="22" height="22"/><rect x="818" y="1442" width="22" height="22"/><rect x="840" y="1442" width="22" height="22"/><rect x="862" y="1442" width="22" height="22"/><rect x="884" y="1442" width="22" height="22"/><rect x="906" y="1442" width="22" height="22"/><rect x="928" y="1442" width="22" height="22"/>
<text x="631" y="1458">9</text><text x="653" y="1458">10</text><text x="675" y="1458">11</text><text x="697" y="1458">12</text><text x="719" y="1458">13</text><text x="741" y="1458">14</text><text x="763" y="1458">15</text><text x="785" y="1458">16</text><text x="807" y="1458">17</text><text x="829" y="1458">18</text><text x="851" y="1458">19</text><text x="873" y="1458">20</text><text x="895" y="1458">21</text><text x="917" y="1458">22</text><text x="939" y="1458">23</text>
<rect x="620" y="1464" width="22" height="22"/><rect x="642" y="1464" width="22" height="22"/><rect x="686" y="1464" width="22" height="22"/><rect x="708" y="1464" width="22" height="22"/><rect x="730" y="1464" width="22" height="22"/><rect x="752" y="1464" width="22" height="22"/><rect x="796" y="1464" width="22" height="22"/><rect x="818" y="1464" width="22" height="22"/><rect x="840" y="1464" width="22" height="22"/><rect x="862" y="1464" width="22" height="22"/><rect x="906" y="1464" width="22" height="22"/><rect x="928" y="1464" width="22" height="22"/>
<text x="631" y="1480">24</text><text x="653" y="1480">25</text><text x="697" y="1480">26</text><text x="719" y="1480">27</text><text x="741" y="1480">28</text><text x="763" y="1480">29</text><text x="807" y="1480">30</text><text x="829" y="1480">31</text><text x="851" y="1480">32</text><text x="873" y="1480">33</text><text x="917" y="1480">34</text><text x="939" y="1480">35</text>
<rect x="1000" y="1489" width="65" height="11"/>
<rect x="814" y="1500" width="22" height="22"/><rect x="836" y="1500" width="22" height="22"/><rect x="858" y="1500" width="22" height="22"/><rect x="880" y="1500" width="22" height="22"/><rect x="902" y="1500" width="22" height="22"/><rect x="924" y="1500" width="22" height="22"/><rect x="946" y="1500" width="22" height="22"/><rect x="968" y="1500" width="22" height="22"/><rect x="990" y="1500" width="22" height="22"/><rect x="1012" y="1500" width="22" height="22"/><rect x="1034" y="1500" width="22" height="22"/><rect x="1056" y="1500" width="22" height="22"/><rect x="1078" y="1500" width="22" height="22"/><rect x="1100" y="1500" width="22" height="22"/><rect x="1122" y="1500" width="22" height="22"/><rect x="1144" y="1500" width="22" height="22"/><rect x="1166" y="1500" width="22" height="22"/><rect x="1188" y="1500" width="22" height="22"/><rect x="1210" y="1500" width="22" height="22"/><rect x="1232" y="1500" width="22" height="22"/>
<text x="825" y="1516">1</text><text x="847" y="1516">2</text><text x="869" y="1516">3</text><text x="891" y="1516">4</text><text x="913" y="1516">5</text><text x="935" y="1516">6</text><text x="957" y="1516">7</text><text x="979" y="1516">8</text><text x="1001" y="1516">9</text><text x="1023" y="1516">10</text><text x="1045" y="1516">11</text><text x="1067" y="1516">12</text><text x="1089" y="1516">13</text><text x="1111" y="1516">14</text><text x="1133" y="1516">15</text><text x="1155" y="1516">16</text><text x="1177" y="1516">17</text><text x="1199" y="1516">18</text><text x="1221" y="1516">19</text><text x="1243" y="1516">20</text>
<rect x="814" y="1522" width="22" height="22"/><rect x="836" y="1522" width="22" height="22"/><rect x="858" y="1522" width="22" height="22"/><rect x="880" y="1522" width="22" height="22"/><rect x="902" y="1522" width="22" height="22"/><rect x="924" y="1522" width="22" height="22"/><rect x="946" y="1522" width="22" height="22"/><rect x="968" y="1522" width="22" height="22"/><rect x="990" y="1522" width="22" height="22"/><rect x="1012" y="1522" width="22" height="22"/><rect x="1034" y="1522" width="22" height="22"/><rect x="1056" y="1522" width="22" height="22"/><rect x="1078" y="1522" width="22" height="22"/><rect x="1100" y="1522" width="22" height="22"/><rect x="1122" y="1522" width="22" height="22"/><rect x="1144" y="1522" width="22" height="22"/><rect x="1166" y="1522" width="22" height="22"/><rect x="1188" y="1522" width="22" height="22"/><rect x="1210" y="1522" width="22" height="22"/><rect x="1232" y="1522" width="22" height="22"/>
<text x="825" y="1538">21</text><text x="847" y="1538">22</text><text x="869" y="1538">23</text><text x="891" y="1538">24</text><text x="913" y="1538">25</text><text x="935" y="1538">26</text><text x="957" y="1538">27</text><text x="979" y="1538">28</text><text x="1001" y="1538">29</text><text x="1023" y="1538">30</text><text x="1045" y="1538">31</text><text x="1067" y="1538">32</text><text x="1089" y="1538">33</text><text x="1111" y="1538">34</text><text x="1133" y="1538">35</text><text x="1155" y="1538">36</text><text x="1177" y="1538">37</text><text x="1199" y="1538">38</text><text x="1221" y="1538">39</text><text x="1243" y="1538">40</text>
<rect x="1114" y="1299" width="296" height="171"/>
<rect x="1127" y="1310" width="56" height="23"/><rect x="1149" y="1310" width="11" height="23"/>
<rect x="1127" y="1337" width="56" height="23"/><rect x="1149" y="1337" width="11" height="23"/>
<rect x="1127" y="1364" width="56" height="23"/><rect x="1149" y="1364" width="11" height="23"/>
<rect x="1127" y="1391" width="56" height="23"/><rect x="1149" y="1391" width="11" height="23"/>
<text x="1138" y="1327">1</text><text x="1172" y="1327">2</text><text x="1138" y="1354">3</text><text x="1172" y="1354">4</text><text x="1138" y="1381">5</text><text x="1172" y="1381">6</text><text x="1138" y="1408">7</text><text x="1172" y="1408">8</text>
<g>
<rect x="1203" y="1310" width="22" height="23"/><rect x="1203" y="1333" width="22" height="22"/><rect x="1192" y="1355" width="22" height="22"/><rect x="1214" y="1355" width="22" height="22"/>
<rect x="1258" y="1310" width="22" height="23"/><rect x="1258" y="1333" width="22" height="22"/><rect x="1247" y="1355" width="22" height="22"/><rect x="1269" y="1355" width="22" height="22"/>
<rect x="1313" y="1310" width="22" height="23"/><rect x="1313" y="1333" width="22" height="22"/><rect x="1302" y="1355" width="22" height="22"/><rect x="1324" y="1355" width="22" height="22"/>
<rect x="1368" y="1310" width="22" height="23"/><rect x="1368" y="1333" width="22" height="22"/><rect x="1357" y="1355" width="22" height="22"/><rect x="1379" y="1355" width="22" height="22"/>
<text x="1214" y="1327">9</text><text x="1214" y="1349">10</text><text x="1203" y="1371">11</text><text x="1225" y="1371">12</text>
<text x="1269" y="1327">13</text><text x="1269" y="1349">14</text><text x="1258" y="1371">15</text><text x="1280" y="1371">16</text>
<text x="1324" y="1327">17</text><text x="1324" y="1349">18</text><text x="1313" y="1371">19</text><text x="1335" y="1371">20</text>
<text x="1379" y="1327">21</text><text x="1379" y="1349">22</text><text x="1368" y="1371">23</text><text x="1390" y="1371">24</text>
</g>
<g transform="translate(0,83)">
<rect x="1203" y="1310" width="22" height="23"/><rect x="1203" y="1333" width="22" height="22"/><rect x="1192" y="1355" width="22" height="22"/><rect x="1214" y="1355" width="22" height="22"/>
<rect x="1258" y="1310" width="22" height="23"/><rect x="1258" y="1333" width="22" height="22"/><rect x="1247" y="1355" width="22" height="22"/><rect x="1269" y="1355" width="22" height="22"/>
<rect x="1313" y="1310" width="22" height="23"/><rect x="1313" y="1333" width="22" height="22"/><rect x="1302" y="1355" width="22" height="22"/><rect x="1324" y="1355" width="22" height="22"/>
<rect x="1368" y="1310" width="22" height="23"/><rect x="1368" y="1333" width="22" height="22"/><rect x="1357" y="1355" width="22" height="22"/><rect x="1379" y="1355" width="22" height="22"/>
<text x="1214" y="1327">25</text><text x="1214" y="1349">26</text><text x="1203" y="1371">27</text><text x="1225" y="1371">28</text>
<text x="1269" y="1327">29</text><text x="1269" y="1349">30</text><text x="1258" y="1371">31</text><text x="1280" y="1371">32</text>
<text x="1324" y="1327">33</text><text x="1324" y="1349">34</text><text x="1313" y="1371">35</text><text x="1335" y="1371">36</text>
<text x="1379" y="1327">37</text><text x="1379" y="1349">38</text><text x="1368" y="1371">39</text><text x="1390" y="1371">40</text>
</g>
</g>
</svg>
</body></html>
